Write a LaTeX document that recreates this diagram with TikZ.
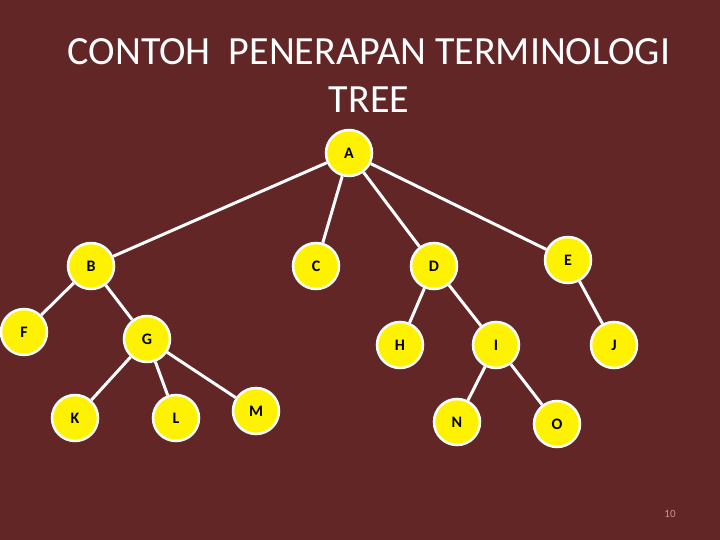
\documentclass[tikz,border=0pt]{standalone}
\usepackage{fontspec}
\setmainfont{Carlito}
\definecolor{slidebg}{RGB}{99,38,38}
\definecolor{pagegrey}{RGB}{200,150,150}
\begin{document}
\begin{tikzpicture}[
  x=1pt, y=-1pt,
  vertex/.style={circle, draw=white, line width=2.5pt, fill=yellow, minimum size=46pt, inner sep=0pt, font=\bfseries\fontsize{16}{16}\selectfont},
  edge/.style={draw=white, line width=3pt}
]
\fill[slidebg] (0,0) rectangle (720,540);
\useasboundingbox (0,0) rectangle (720,540);
% title
\node[text=white, font=\fontsize{40}{40}\selectfont] (title1) at (369,52) {CONTOH\ \ PENERAPAN TERMINOLOGI};
\node[text=white, font=\fontsize{40}{40}\selectfont] (title2) at (369,100) {TREE};
% nodes
\node[vertex] (a) at (349,153) {A};
\node[vertex] (b) at (91,266) {B};
\node[vertex] (c) at (316,266) {C};
\node[vertex] (d) at (434,266) {D};
\node[vertex] (e) at (568,260) {E};
\node[vertex] (f) at (24,332) {F};
\node[vertex] (g) at (147,339) {G};
\node[vertex] (h) at (400,345) {H};
\node[vertex] (i) at (496,345) {I};
\node[vertex] (j) at (614,345) {J};
\node[vertex] (k) at (75,418) {K};
\node[vertex] (l) at (176,418) {L};
\node[vertex] (m) at (256,411) {M};
\node[vertex] (n) at (457,422) {N};
\node[vertex] (o) at (557,424) {O};
% edges
\foreach \from/\to in {a/b, a/c, a/d, a/e, b/f, b/g, g/k, g/l, g/m, d/h, d/i, e/j, i/n, i/o}
  \draw[edge] (\from) -- (\to);
% page number
\node[text=pagegrey, font=\fontsize{11}{11}\selectfont] (pagenum) at (670,514) {10};
\end{tikzpicture}
\end{document}
